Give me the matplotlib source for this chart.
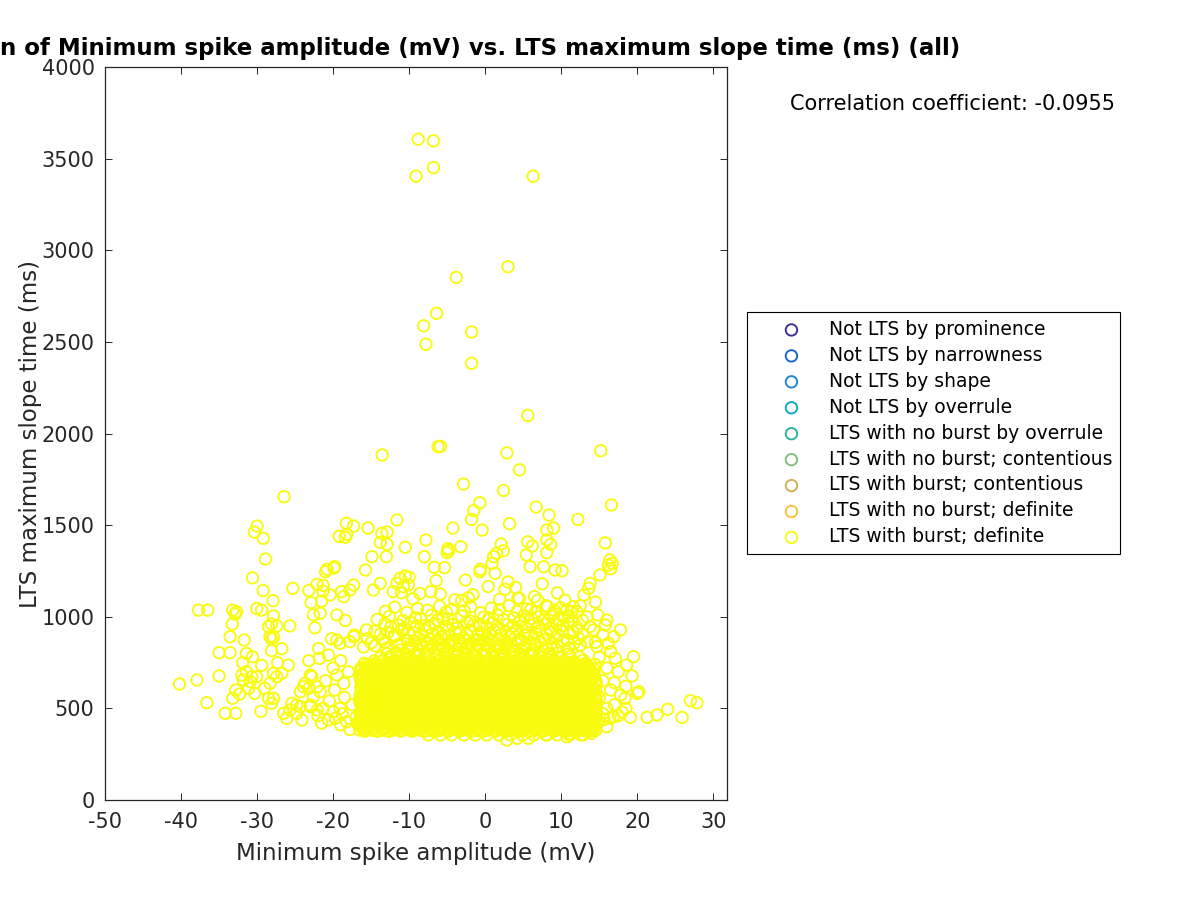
import matplotlib
matplotlib.use("Agg")
import matplotlib.pyplot as plt

# ---------------- data ----------------
title_text = "Correlation of Minimum spike amplitude (mV) vs. LTS maximum slope time (ms) (all)"
x_label = "Minimum spike amplitude (mV)"
y_label = "LTS maximum slope time (ms)"
corr_text = "Correlation coefficient: -0.0955"

legend_labels = ["Not LTS by prominence", "Not LTS by narrowness", "Not LTS by shape",
                 "Not LTS by overrule", "LTS with no burst by overrule",
                 "LTS with no burst; contentious", "LTS with burst; contentious",
                 "LTS with no burst; definite", "LTS with burst; definite"]
legend_colors = ["#3a2b96", "#1263dd", "#1a86d8", "#06a8c9", "#26b39e",
                 "#7fbf7b", "#d1ae55", "#fcbf3d", "#f9fb0e"]

x_ticks = [-50, -40, -30, -20, -10, 0, 10, 20, 30]
y_ticks = [0, 500, 1000, 1500, 2000, 2500, 3000, 3500, 4000]

# sparse high points
top_x = [-8.8, -6.8, -6.8, -9.1, 6.3, 3.0, -3.8, -6.4, -8.1, -7.8, -1.8, -1.8, 5.6,
         -6.2, -5.9, 2.85, 15.2, 4.5, -2.85, 2.4, -0.7, -1.5, -1.8, -0.4, -4.25, 3.2,
         6.7, 8.4, 12.2, 16.6, 9.0, 8.1, 8.1, 8.6, 5.6, 6.2, 15.8, 2.1, -7.8, -10.5,
         -11.6, -4.9, -3.2, -13.55, -26.45]
top_y = [3606, 3597, 3451, 3404, 3404, 2910, 2852, 2656, 2588, 2487, 2554, 2383, 2099,
         1928, 1930, 1894, 1906, 1802, 1724, 1689, 1622, 1579, 1531, 1473, 1484, 1508,
         1599, 1555, 1531, 1610, 1484, 1473, 1419, 1395, 1409, 1386, 1403, 1397, 1419, 1379,
         1528, 1372, 1382, 1883, 1655]

# points between 1100 and 1520 ms
upper_x = [-30.0, -30.35, -29.2, -18.25, -17.3, -15.4, -19.2, -18.4, -18.2, -13.6, -12.9,
           -13.8, -12.9, -8.0, -4.8, -5.0, -14.9, -13.0, -20.8, -19.8, -15.75, -6.7, -5.35,
           -0.65, 2.4, 1.5, 1.1, 0.9, 1.3, -0.7, 5.4, 8.1, 16.4, 16.7, 16.2, 16.5, 5.9,
           7.7, 9.2, 10.1, 15.1, 13.8, 13.6, 13.0, -28.9, -30.6, -29.2, -27.9, -25.3,
           -23.2, -22.1, -21.3, -21.35, -21.0, -19.9, -20.4, -22.9, -21.5, -18.9, -18.6,
           -17.8, -17.3, -6.45, -7.15, -5.9, -11.2, -10.5, -10.0, -11.6, -10.75, -12.1,
           -11.0, -10.1, -14.7, -13.8, -8.6, -3.1, 9.5, 10.5, 12.5, 14.5, 8.0, 6.5, 4.0,
           3.0, 4.5, 7.5, 2.6, -1.6, -2.6, 0.4]
upper_y = [1495, 1462, 1428, 1510, 1495, 1484, 1439, 1434, 1450, 1455, 1462,
           1406, 1395, 1328, 1360, 1350, 1328, 1328, 1259, 1273, 1255, 1270, 1268,
           1259, 1360, 1346, 1328, 1291, 1237, 1246, 1337, 1350, 1310, 1291, 1282, 1262, 1273,
           1273, 1255, 1251, 1228, 1182, 1155, 1119, 1315, 1212, 1143, 1088, 1155,
           1143, 1177, 1171, 1140, 1246, 1266, 1119, 1077, 1085, 1137, 1110,
           1146, 1173, 1197, 1137, 1124, 1210, 1222, 1215, 1182, 1164, 1137,
           1131, 1173, 1146, 1182, 1127, 1088, 1130, 1090, 1060, 1080, 1060, 1110, 1160,
           1190, 1100, 1180, 1150, 1120, 1200, 1165]

# left wing
left_x = [-37.7, -36.5, -33.2, -32.7, -32.9, -30.05, -29.4, -22.6, -21.7, -19.5,
          -27.85, -28.1, -27.4, -28.5, -28.3, -28.1, -27.85, -25.7, -33.25, -33.55, -31.7,
          -35.0, -33.55, -31.4, -30.6, -28.1, -26.75, -31.9, -29.4, -27.3, -25.9, -40.2,
          -37.9, -35.0, -32.0, -31.4, -30.7, -31.8, -30.9, -30.05, -31.1, -30.3, -27.85,
          -27.4, -26.75, -28.3, -29.0, -28.5, -27.85, -28.1, -32.8, -33.2, -32.3, -36.6,
          -34.2, -32.8, -29.5, -23.2, -21.8, -24.3, -23.7, -22.8, -23.2, -22.1, -22.6,
          -26.5, -25.7, -24.8, -24.1, -23.0, -22.1, -25.4, -24.8, -26.1,
          -21.9, -20.6, -19.5, -19.1, -17.8, -17.3, -15.6, -23.0, -23.9, -21.7, -19.5,
          -18.6, -24.3, -23.0, -21.3, -20.0, -19.1, -20.6, -19.7, -18.2, -17.8, -16.5,
          -19.0, -20.0, -18.0, -21.0, -19.8, -18.5, -20.5, -17.5, -22.0, -18.8, -17.0,
          -16.8, -19.0, -21.5, -20.2, -22.4, -18.4, -17.2]
left_y = [1036, 1036, 1036, 1027, 1015, 1045, 1036, 1010, 1019, 1010,
          1004, 960, 950, 946, 891, 879, 888, 950, 960, 891, 873,
          804, 804, 800, 782, 815, 826, 749, 735, 749, 736, 633,
          655, 677, 682, 700, 673, 655, 646, 673, 610, 582, 691,
          673, 691, 637, 610, 555, 555, 528, 600, 555, 578, 531,
          473, 473, 484, 760, 773, 591, 637, 673, 610, 618, 564,
          473, 491, 518, 437, 509, 491, 528, 473, 446,
          827, 791, 873, 855, 864, 891, 928, 682, 618, 591, 682,
          637, 509, 518, 500, 482, 500, 437, 446, 427, 385, 382,
          760, 720, 700, 650, 600, 560, 540, 520, 460, 470, 450,
          420, 410, 420, 880, 940, 980, 900]

# right wing
right_x = [16.0, 15.8, 17.8, 16.9, 16.2, 14.25, 13.8, 14.7, 19.5, 18.6, 19.3, 17.1,
           20.0, 20.2, 18.4, 17.8, 19.1, 21.3, 22.6, 24.0, 25.9, 27.0, 27.85, 16.4,
           16.9, 14.0, 12.9, 10.75, 11.2, 8.1, 5.7, 4.2, 2.85, 10.75, 11.6, 12.05, 13.4,
           15.5, 14.5, 16.5, 15.0, 17.5, 16.0, 15.5, 17.0, 18.5, 16.5, 15.0, 17.0, 16.0,
           18.0, 15.5, 14.8, 15.6, 17.5, 18.5, 16.0, 14.5, 11.0, 12.8, 14.8, 6.0, 9.0]
right_y = [982, 955, 928, 891, 855, 928, 946, 837, 782, 737, 677, 773,
           582, 591, 555, 573, 451, 451, 464, 495, 451, 542, 531, 446,
           455, 364, 355, 345, 364, 355, 337, 337, 327, 1037, 1055, 1028, 1000,
           900, 860, 810, 780, 700, 720, 650, 640, 620, 600, 560, 520, 500,
           480, 470, 420, 440, 460, 500, 400, 380, 1000, 980, 1010, 1040, 1020]

# halo above the dense core
halo_x = [-16.0, -14.5, -13.0, -11.5, -10.0, -8.5, -7.0, -5.5, -4.0, -2.5, -1.0, 0.5, 2.0,
          3.5, 5.0, 6.5, 8.0, 9.5, 11.0, 12.5,
          -15.5, -13.5, -12.0, -10.2, -8.8, -7.3, -5.8, -4.2, -2.8, -1.2, 0.3, 1.8, 3.3,
          4.8, 6.4, 7.8, 9.3, 10.8, 12.3,
          -14.5, -12.8, -11.0, -9.4, -7.9, -6.2, -4.8, -3.3, -1.9, -0.4, 1.2, 2.7, 4.1,
          5.7, 7.2, 8.6, 10.2, 11.6,
          -13.2, -11.4, -9.8, -8.0, -6.6, -4.3, -2.4, -0.8, 0.9, 2.9, 4.5, 6.2, 7.9, 9.4, 11.0,
          -12.6, -9.2, -7.1, -5.6, -3.1, -0.2, 1.6, 3.8, 5.1, 7.0, 8.7, 10.4,
          -11.9, -8.9, -6.0, -4.4, -1.9, 0.8, 3.1, 5.5, 8.2, 9.9,
          -9.5, -4.0, -2.2, 1.9, 4.3, 6.9]
halo_y = [835, 842, 828, 846, 833, 850, 838, 826, 845, 832, 848, 836, 829,
          844, 831, 847, 835, 840, 829, 846,
          880, 874, 889, 871, 885, 878, 891, 873, 884, 870, 887, 876, 890,
          872, 883, 877, 889, 874, 882,
          921, 915, 928, 912, 925, 918, 931, 914, 926, 911, 923, 917, 930,
          913, 927, 919, 924, 916,
          962, 955, 968, 951, 964, 957, 970, 953, 966, 958, 971, 954, 963, 959, 967,
          1002, 995, 1008, 991, 1004, 997, 1010, 993, 1006, 999, 1003, 996,
          1052, 1045, 1058, 1041, 1054, 1047, 1060, 1043, 1056, 1049,
          1098, 1092, 1104, 1095, 1101, 1090]

halo2_x = [-15.0, -13.2, -11.2, -9.3, -7.6, -6.4, -4.9, -3.3, -1.8, -0.1, 1.4, 2.8, 4.3,
           5.9, 7.2, 8.8, 10.3, 11.7, 13.4,
           -13.8, -11.9, -10.1, -8.4, -6.9, -5.3, -3.9, -2.4, -1.0, 0.6, 2.0, 3.6, 5.2,
           6.6, 8.1, 9.6, 11.1, 12.8,
           -12.4, -10.6, -9.0, -7.3, -5.2, -3.7, -1.6, 0.2, 1.8, 3.7, 5.3, 7.0, 8.5, 10.2, 12.1,
           -14.2, -10.8, -8.5, -6.3, -4.9, -2.0, 0.5, 2.4, 4.6, 6.1, 7.8, 9.6, 11.5,
           -13.1, -10.3, -7.6, -5.1, -2.8, -0.6, 1.9, 4.2, 6.6, 9.1, 11.4]
halo2_y = [858, 862, 853, 866, 855, 869, 851, 864, 857, 870, 852, 861, 867,
           854, 865, 859, 868, 856, 863,
           905, 899, 911, 902, 908, 896, 913, 903, 898, 910, 901, 907, 897,
           912, 904, 900, 909, 906,
           945, 939, 951, 942, 948, 937, 953, 944, 940, 950, 943, 947, 938, 952, 941,
           985, 979, 991, 982, 988, 977, 993, 984, 980, 990, 983, 987, 978,
           1030, 1024, 1036, 1027, 1033, 1022, 1038, 1029, 1025, 1035, 1028]

# transition rows at the top of the dense core (narrowing upward)
crest_x = [-14.6, -13.4, -12.1, -10.9, -9.6, -8.4, -7.1, -5.9, -4.6, -3.4, -2.1, -0.9, 0.4,
           1.6, 2.9, 4.1, 5.4, 6.6, 7.9, 9.1, 10.4, 11.6, 12.9,
           -13.8, -12.5, -11.3, -10.0, -8.8, -7.5, -6.3, -5.0, -3.8, -2.5, -1.3, 0.0, 1.2,
           2.5, 3.7, 5.0, 6.2, 7.5, 8.7, 10.0, 11.2, 12.4,
           -12.9, -11.6, -10.4, -9.1, -7.9, -6.6, -5.4, -4.1, -2.9, -1.6, -0.4, 0.9, 2.1,
           3.4, 4.6, 5.9, 7.1, 8.4, 9.6, 10.9,
           -11.2, -9.9, -8.7, -7.4, -6.2, -4.9, -3.7, -2.4, -1.2, 0.1, 1.3, 2.6, 3.8, 5.1,
           6.3, 7.6, 8.8,
           -9.6, -8.3, -7.1, -5.8, -4.6, -3.3, -2.1, -0.8, 0.4, 1.7, 2.9, 4.2, 5.4, 6.7,
           -7.9, -6.1, -4.4, -2.6, -0.9, 0.9, 2.6, 4.4]
crest_y = [758, 762, 755, 764, 757, 761, 754, 763, 759, 756, 765, 758, 762,
           755, 760, 764, 757, 761, 756, 763, 759, 754, 762,
           778, 783, 776, 781, 785, 777, 782, 779, 784, 776, 780, 786, 778,
           783, 777, 781, 785, 779, 782, 776, 784, 780,
           798, 803, 796, 801, 805, 797, 802, 799, 804, 796, 800, 806, 798,
           803, 797, 801, 805, 799, 802, 796,
           818, 823, 816, 821, 825, 817, 822, 819, 824, 816, 820, 826, 818, 823,
           817, 821, 825,
           843, 848, 841, 846, 850, 842, 847, 844, 849, 841, 845, 851, 843, 848,
           868, 873, 866, 871, 875, 867, 872, 869]

# dense core, part 1: one y value per row with the x values of that row
core_row_y = [355, 375, 385, 395, 405, 415, 425, 435, 445, 455, 465, 475, 485, 495, 505,
              515, 525, 535, 545, 555, 565, 575, 585, 595, 605, 615, 625, 635, 645, 655,
              665, 675, 685, 695, 705, 715, 725, 735, 745]
core_row_x = [
    [-7.5, -5.9, -4.4, -2.8, -1.3, 0.2, 1.8, 3.3, 4.9, 6.4, 8.0, 9.5, 11.1, 12.6],
    [-15.8, -14.2, -12.7, -11.1, -9.6, -8.0, -6.5, -4.9, -3.4, -1.8, -0.3, 1.3, 2.8, 4.4, 5.9, 7.5, 9.0, 10.6, 12.1, 13.6],
    [-15.0, -13.5, -11.9, -10.4, -8.8, -7.3, -5.7, -4.2, -2.6, -1.1, 0.5, 2.0, 3.6, 5.1, 6.7, 8.2, 9.8, 11.3, 12.9],
    [-16.2, -14.7, -13.1, -11.7, -10.1, -8.6, -7.0, -5.6, -4.0, -2.5, -1.0, 0.6, 2.0, 3.6, 5.1, 6.7, 8.1, 9.7, 11.2, 12.8, 14.2],
    [-15.4, -13.9, -12.4, -10.9, -9.3, -7.8, -6.3, -4.8, -3.2, -1.7, -0.2, 1.3, 2.8, 4.4, 5.9, 7.4, 8.9, 10.5, 12.0, 13.5],
    [-16.6, -15.0, -13.5, -12.0, -10.4, -8.9, -7.4, -5.8, -4.3, -2.7, -1.2, 0.3, 1.9, 3.4, 4.9, 6.5, 8.0, 9.6, 11.0, 12.6, 14.0],
    [-15.8, -14.3, -12.7, -11.2, -9.6, -8.1, -6.6, -5.0, -3.5, -2.0, -0.4, 1.1, 2.6, 4.2, 5.7, 7.3, 8.8, 10.3, 11.8, 13.3],
    [-15.6, -14.1, -12.5, -11.0, -9.5, -7.9, -6.4, -4.8, -3.3, -1.8, -0.2, 1.3, 2.9, 4.3, 5.9, 7.4, 9.0, 10.4, 12.0, 13.5],
    [-16.3, -14.8, -13.3, -11.7, -10.2, -8.7, -7.1, -5.6, -4.0, -2.5, -1.0, 0.6, 2.1, 3.6, 5.2, 6.7, 8.2, 9.7, 11.2, 12.7, 14.2],
    [-16.0, -14.4, -12.9, -11.4, -9.8, -8.3, -6.8, -5.2, -3.7, -2.1, -0.6, 0.9, 2.5, 4.0, 5.6, 7.0, 8.6, 10.1, 11.7, 13.2, 14.6],
    [-15.2, -13.7, -12.1, -10.6, -9.0, -7.5, -6.0, -4.4, -2.9, -1.3, 0.2, 1.7, 3.3, 4.8, 6.3, 7.8, 9.4, 10.9, 12.4, 13.9],
    [-16.4, -14.8, -13.3, -11.8, -10.2, -8.7, -7.1, -5.6, -4.1, -2.5, -1.0, 0.5, 2.1, 3.6, 5.2, 6.7, 8.2, 9.8, 11.3, 12.8, 14.3],
    [-15.6, -14.0, -12.5, -11.0, -9.4, -7.9, -6.3, -4.8, -3.3, -1.7, -0.2, 1.3, 2.9, 4.4, 5.9, 7.5, 9.0, 10.6, 12.1, 13.6],
    [-15.3, -13.8, -12.2, -10.7, -9.1, -7.6, -6.1, -4.5, -3.0, -1.4, 0.1, 1.6, 3.2, 4.7, 6.3, 7.7, 9.3, 10.8, 12.4, 13.9],
    [-16.0, -14.5, -13.0, -11.4, -9.9, -8.3, -6.8, -5.3, -3.7, -2.2, -0.7, 0.9, 2.4, 3.9, 5.5, 7.0, 8.5, 10.1, 11.6, 13.1, 14.6],
    [-16.1, -14.6, -13.0, -11.5, -10.0, -8.4, -6.9, -5.3, -3.8, -2.3, -0.7, 0.8, 2.4, 3.9, 5.4, 7.0, 8.5, 10.0, 11.6, 13.1, 14.5],
    [-15.3, -13.8, -12.2, -10.7, -9.2, -7.6, -6.1, -4.5, -3.0, -1.5, 0.1, 1.6, 3.1, 4.7, 6.2, 7.8, 9.3, 10.8, 12.3, 13.8],
    [-16.5, -15.0, -13.4, -11.9, -10.3, -8.8, -7.3, -5.7, -4.2, -2.6, -1.1, 0.4, 2.0, 3.5, 5.0, 6.6, 8.1, 9.7, 11.2, 12.7, 14.1],
    [-15.7, -14.2, -12.6, -11.1, -9.5, -8.0, -6.5, -4.9, -3.4, -1.8, -0.3, 1.2, 2.8, 4.3, 5.8, 7.4, 8.9, 10.4, 11.9, 13.4],
    [-15.5, -14.0, -12.4, -10.9, -9.4, -7.8, -6.3, -4.7, -3.2, -1.6, -0.1, 1.4, 3.0, 4.5, 6.1, 7.6, 9.1, 10.6, 12.2, 13.7],
    [-16.2, -14.7, -13.2, -11.6, -10.1, -8.5, -7.0, -5.5, -3.9, -2.4, -0.9, 0.7, 2.2, 3.7, 5.3, 6.8, 8.4, 9.9, 11.4, 12.9, 14.4],
    [-15.9, -14.3, -12.8, -11.3, -9.7, -8.2, -6.6, -5.1, -3.6, -2.0, -0.5, 1.1, 2.6, 4.1, 5.7, 7.2, 8.8, 10.3, 11.8, 13.3, 14.7],
    [-15.1, -13.6, -12.0, -10.5, -8.9, -7.4, -5.9, -4.3, -2.8, -1.2, 0.3, 1.9, 3.4, 4.9, 6.5, 8.0, 9.5, 11.1, 12.6, 14.0],
    [-16.3, -14.7, -13.2, -11.6, -10.1, -8.6, -7.0, -5.5, -3.9, -2.4, -0.9, 0.7, 2.2, 3.8, 5.3, 6.8, 8.4, 9.9, 11.4, 12.9, 14.4],
    [-15.5, -14.0, -12.4, -10.9, -9.3, -7.8, -6.3, -4.7, -3.2, -1.6, -0.1, 1.5, 3.0, 4.5, 6.1, 7.6, 9.1, 10.7, 12.2, 13.7],
    [-15.2, -13.7, -12.1, -10.6, -9.0, -7.5, -6.0, -4.4, -2.9, -1.3, 0.2, 1.7, 3.3, 4.8, 6.4, 7.9, 9.4, 10.9, 12.5, 14.0],
    [-16.0, -14.4, -12.9, -11.3, -9.8, -8.3, -6.7, -5.2, -3.6, -2.1, -0.6, 1.0, 2.5, 4.0, 5.6, 7.1, 8.7, 10.2, 11.7, 13.2, 14.6],
    [-16.0, -14.5, -12.9, -11.4, -9.9, -8.3, -6.8, -5.2, -3.7, -2.2, -0.6, 0.9, 2.5, 4.0, 5.5, 7.1, 8.6, 10.1, 11.7, 13.2, 14.6],
    [-15.2, -13.7, -12.1, -10.6, -9.1, -7.5, -6.0, -4.4, -2.9, -1.4, 0.2, 1.7, 3.2, 4.8, 6.3, 7.8, 9.4, 10.9, 12.4, 13.9],
    [-16.4, -14.9, -13.3, -11.8, -10.2, -8.7, -7.2, -5.6, -4.1, -2.5, -1.0, 0.5, 2.1, 3.6, 5.1, 6.7, 8.2, 9.7, 11.3, 12.8],
    [-15.6, -14.1, -12.5, -11.0, -9.4, -7.9, -6.4, -4.8, -3.3, -1.8, -0.2, 1.3, 2.9, 4.4, 5.9, 7.5, 9.0, 10.5, 12.0, 13.5],
    [-15.4, -13.9, -12.3, -10.8, -9.3, -7.7, -6.2, -4.6, -3.1, -1.5, 0.0, 1.5, 3.1, 4.6, 6.0, 7.6, 9.1, 10.7, 12.2, 13.6],
    [-16.1, -14.6, -13.1, -11.5, -10.0, -8.5, -6.9, -5.4, -3.8, -2.3, -0.8, 0.8, 2.3, 3.8, 5.4, 6.9, 8.4, 9.9, 11.5, 13.0, 14.3],
    [-15.8, -14.2, -12.7, -11.2, -9.6, -8.1, -6.5, -5.0, -3.5, -1.9, -0.4, 1.2, 2.7, 4.2, 5.8, 7.3, 8.9, 10.4, 11.9, 13.4],
    [-15.0, -13.5, -11.9, -10.4, -8.8, -7.3, -5.8, -4.2, -2.7, -1.1, 0.4, 1.9, 3.5, 5.0, 6.5, 8.1, 9.6, 11.1, 12.7],
    [-16.2, -14.6, -13.1, -11.5, -10.0, -8.5, -6.9, -5.4, -3.8, -2.3, -0.8, 0.8, 2.3, 3.9, 5.4, 6.9, 8.5, 10.0, 11.5, 13.0, 14.3],
    [-15.4, -13.9, -12.3, -10.8, -9.2, -7.7, -6.2, -4.6, -3.1, -1.5, 0.0, 1.5, 3.1, 4.6, 6.2, 7.7, 9.2, 10.7, 12.3, 13.7],
    [-15.1, -13.6, -12.0, -10.5, -8.9, -7.4, -5.9, -4.3, -2.8, -1.2, 0.3, 1.8, 3.4, 4.9, 6.4, 8.0, 9.5, 11.0, 12.6],
    [-15.9, -14.4, -12.8, -11.3, -9.7, -8.2, -6.6, -5.1, -3.6, -2.0, -0.5, 1.0, 2.6, 4.1, 5.7, 7.2, 8.7, 10.3, 11.8, 13.2],
]

# dense core, part 2: more rows, each row uses one of the x patterns below
core_pat_a = [-16.0, -14.75, -13.5, -12.25, -11.0, -9.75, -8.5, -7.25, -6.0, -4.75, -3.5, -2.25,
              -1.0, 0.25, 1.5, 2.75, 4.0, 5.25, 6.5, 7.75, 9.0, 10.25, 11.5, 12.75, 14.0]
core_pat_b = [-15.45, -14.2, -12.95, -11.7, -10.45, -9.2, -7.95, -6.7, -5.45, -4.2, -2.95, -1.7,
              -0.45, 0.8, 2.05, 3.3, 4.55, 5.8, 7.05, 8.3, 9.55, 10.8, 12.05, 13.3, 14.55]
core_pat_c = [-16.35, -15.1, -13.85, -12.6, -11.35, -10.1, -8.85, -7.6, -6.35, -5.1, -3.85, -2.6,
              -1.35, -0.1, 1.15, 2.4, 3.65, 4.9, 6.15, 7.4, 8.65, 9.9, 11.15, 12.4, 13.65]
core_pat_d = [-15.7, -14.45, -13.2, -11.95, -10.7, -9.45, -8.2, -6.95, -5.7, -4.45, -3.2, -1.95,
              -0.7, 0.55, 1.8, 3.05, 4.3, 5.55, 6.8, 8.05, 9.3, 10.55, 11.8, 13.05, 14.3]
core_pat_e = [-16.15, -14.9, -13.65, -12.4, -11.15, -9.9, -8.65, -7.4, -6.15, -4.9, -3.65, -2.4,
              -1.15, 0.1, 1.35, 2.6, 3.85, 5.1, 6.35, 7.6, 8.85, 10.1, 11.35, 12.6, 13.85]
core_pat_f = [-15.3, -14.05, -12.8, -11.55, -10.3, -9.05, -7.8, -6.55, -5.3, -4.05, -2.8, -1.55,
              -0.3, 0.95, 2.2, 3.45, 4.7, 5.95, 7.2, 8.45, 9.7, 10.95, 12.2, 13.45]
core_pat_g = [-15.9, -14.65, -13.4, -12.15, -10.9, -9.65, -8.4, -7.15, -5.9, -4.65, -3.4, -2.15,
              -0.9, 0.35, 1.6, 2.85, 4.1, 5.35, 6.6, 7.85, 9.1, 10.35, 11.6, 12.85, 14.1]
core_pat_h = [-16.45, -15.2, -13.95, -12.7, -11.45, -10.2, -8.95, -7.7, -6.45, -5.2, -3.95, -2.7,
              -1.45, -0.2, 1.05, 2.3, 3.55, 4.8, 6.05, 7.3, 8.55, 9.8, 11.05, 12.3, 13.55]
core_pat_i = [-15.55, -14.3, -13.05, -11.8, -10.55, -9.3, -8.05, -6.8, -5.55, -4.3, -3.05, -1.8,
              -0.55, 0.7, 1.95, 3.2, 4.45, 5.7, 6.95, 8.2, 9.45, 10.7, 11.95, 13.2, 14.45]
core_pat_j = [-16.25, -15.0, -13.75, -12.5, -11.25, -10.0, -8.75, -7.5, -6.25, -5.0, -3.75, -2.5,
              -1.25, 0.0, 1.25, 2.5, 3.75, 5.0, 6.25, 7.5, 8.75, 10.0, 11.25, 12.5, 13.75]
core2_row_y = [380, 390, 400, 410, 420, 430, 440, 450, 460, 470, 480, 490, 500, 510, 520,
               530, 540, 550, 560, 570, 580, 590, 600, 610, 620, 630, 640, 650, 660, 670,
               680, 690, 700, 710, 720, 730, 740]
core2_row_pat = "adgjcfibehadgjcfibehadgjcfibehadgjcfi"

# ---------------- assemble the single visible series ----------------
patterns = {"a": core_pat_a, "b": core_pat_b, "c": core_pat_c, "d": core_pat_d,
            "e": core_pat_e, "f": core_pat_f, "g": core_pat_g, "h": core_pat_h,
            "i": core_pat_i, "j": core_pat_j}
xs = top_x + upper_x + left_x + right_x + halo_x + halo2_x + crest_x
ys = top_y + upper_y + left_y + right_y + halo_y + halo2_y + crest_y
for yv, row in zip(core_row_y, core_row_x):
    xs.extend(row)
    ys.extend([yv] * len(row))
for yv, key in zip(core2_row_y, core2_row_pat):
    xs.extend(patterns[key])
    ys.extend([yv] * len(patterns[key]))

# ---------------- figure ----------------
plt.rcParams['font.family'] = ['DejaVu Sans']
plt.rcParams['axes.unicode_minus'] = False
fig = plt.figure(figsize=(12, 9), dpi=100)
ax = fig.add_axes([105 / 1200, 100 / 900, 622 / 1200, 733 / 900])

dark = "#262626"
marker_s = 68
marker_lw = 1.35

handles = []
for lab, col in zip(legend_labels[:-1], legend_colors[:-1]):
    h = ax.scatter([], [], s=marker_s, facecolors='none', edgecolors=col,
                   linewidths=marker_lw, label=lab)
    handles.append(h)
h = ax.scatter(xs, ys, s=marker_s, facecolors='none', edgecolors=legend_colors[-1],
               linewidths=marker_lw, label=legend_labels[-1])
handles.append(h)

ax.set_xlim(-50, 31.8)
ax.set_ylim(0, 4000)
ax.set_xticks(x_ticks)
ax.set_yticks(y_ticks)
ax.tick_params(direction='in', top=True, right=True, length=5, width=0.7,
               colors=dark, labelsize=15)
ax.tick_params(axis='x', pad=9)
ax.tick_params(axis='y', pad=7.5)
for sp in ax.spines.values():
    sp.set_color(dark)
    sp.set_linewidth(0.9)

ax.set_xlabel(x_label, fontsize=16.5, color=dark, labelpad=7)
ax.set_ylabel(y_label, fontsize=16.5, color=dark, labelpad=0)
ax.set_title(title_text, fontsize=16.5, fontweight='bold', color='black', pad=9)

fig.text(790 / 1200, 1 - 104 / 900, corr_text, fontsize=15, color='black',
         ha='left', va='center')

leg = fig.legend(handles=handles, labels=legend_labels, loc='upper left',
                 bbox_to_anchor=(747 / 1200, 1 - 312 / 900), fontsize=13.5,
                 frameon=True, fancybox=False, framealpha=1, edgecolor='black',
                 borderpad=0.42, handlelength=3.9, handletextpad=0.05,
                 labelspacing=0.37, scatterpoints=1, borderaxespad=0)
leg.get_frame().set_linewidth(0.8)

fig.savefig("out.png", dpi=100)
